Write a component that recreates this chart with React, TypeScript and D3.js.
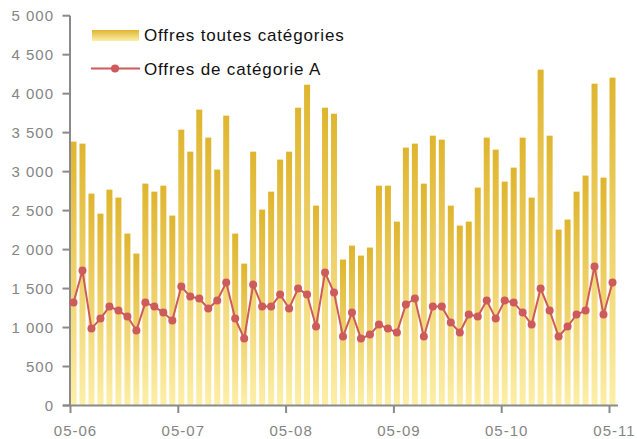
import React from "react";
import * as d3 from "d3";

const xTickLabels = ["05-06", "05-07", "05-08", "05-09", "05-10", "05-11"];
const yTicks = [0, 500, 1000, 1500, 2000, 2500, 3000, 3500, 4000, 4500, 5000];

const allOffers = [
  3385, 3359, 2718, 2461, 2769, 2667, 2205, 1949, 2846, 2743, 2820, 2436,
  3538, 3256, 3795, 3436, 3026, 3718, 2205, 1820, 3256, 2513, 2743, 3154,
  3256, 3820, 4115, 2564, 3820, 3743, 1872, 2051, 1923, 2026, 2820, 2820,
  2359, 3308, 3359, 2846, 3461, 3410, 2564, 2308, 2359, 2795, 3436, 3282,
  2872, 3051, 3436, 2667, 4308, 3461, 2256, 2385, 2743, 2949, 4128, 2923,
  4205,
];

const catA = [
  1320, 1731, 987, 1115, 1269, 1218, 1141, 962, 1320, 1269, 1192, 1090,
  1526, 1397, 1372, 1244, 1346, 1577, 1115, 859, 1551, 1269, 1269, 1423,
  1244, 1500, 1423, 1013, 1705, 1449, 885, 1192, 859, 910, 1038, 987,
  936, 1295, 1372, 885, 1269, 1269, 1064, 936, 1167, 1141, 1346, 1115,
  1346, 1320, 1192, 1038, 1500, 1218, 885, 1013, 1167, 1218, 1782, 1167,
  1577,
];

const seriesNames = ["Offres toutes catégories", "Offres de catégorie A"];

export default function App() {
  const W = 637;
  const H = 439;
  const x = d3.scaleLinear().domain([0, 60]).range([70.5, 609.5]);
  const y = d3.scaleLinear().domain([0, 5000]).range([405.5, 15.7]);
  const barW = 6;
  const axisColor = "#8a8a8a";
  const labelColor = "#858585";
  const line = d3
    .line<number>()
    .x((_, i) => x(i) + barW / 2)
    .y((d) => y(d));

  return (
    <svg
      width={W}
      height={H}
      style={{ position: "absolute", left: 0, top: 0 }}
      fontFamily="'Liberation Sans', Arial, sans-serif"
    >
      <defs>
        <linearGradient id="barGrad" x1="0" y1="0" x2="0" y2="1">
          <stop offset="0%" stopColor="#DFB52E" />
          <stop offset="100%" stopColor="#FDEFA8" />
        </linearGradient>
      </defs>
      <rect width={W} height={H} fill="#fff" />
      {allOffers.map((v, i) => (
        <rect
          key={i}
          x={x(i)}
          y={y(v)}
          width={barW}
          height={y(0) - y(v)}
          fill="url(#barGrad)"
        />
      ))}
      {/* axes */}
      <line x1={70} x2={70} y1={y(5000)} y2={y(0)} stroke={axisColor} strokeWidth={2} />
      <line x1={63} x2={618} y1={y(0)} y2={y(0)} stroke={axisColor} strokeWidth={2} />
      {yTicks.map((t) => (
        <g key={t}>
          <line x1={62.5} x2={70} y1={y(t)} y2={y(t)} stroke={axisColor} strokeWidth={2} />
          <text
            x={54}
            y={y(t)}
            dy="0.36em"
            textAnchor="end"
            fontSize={15}
            letterSpacing={1}
            fill={labelColor}
          >
            {d3.format(",")(t).replace(/,/g, " ")}
          </text>
        </g>
      ))}
      {xTickLabels.map((lab, i) => (
        <g key={lab}>
          <line x1={x(i * 12)} x2={x(i * 12)} y1={y(0)} y2={413} stroke={axisColor} strokeWidth={2} />
          <text
            x={x(i * 12) + 5}
            y={436}
            textAnchor="middle"
            fontSize={15}
            letterSpacing={1}
            fill={labelColor}
          >
            {lab}
          </text>
        </g>
      ))}
      {/* line series */}
      <path d={line(catA) || ""} fill="none" stroke="#CD5B5B" strokeWidth={2} />
      {catA.map((v, i) => (
        <circle key={i} cx={x(i) + barW / 2} cy={y(v)} r={4} fill="#CD5B5B" />
      ))}
      {/* legend */}
      <rect x={92} y={30} width={47} height={11} fill="url(#barGrad)" />
      <text x={144} y={41} fontSize={17} letterSpacing={0.85} fill="#111">
        {seriesNames[0]}
      </text>
      <line x1={91} x2={140} y1={68.5} y2={68.5} stroke="#CD5B5B" strokeWidth={2} />
      <circle cx={115} cy={68.5} r={4} fill="#CD5B5B" />
      <text x={144} y={74.5} fontSize={17} letterSpacing={0.85} fill="#111">
        {seriesNames[1]}
      </text>
    </svg>
  );
}
